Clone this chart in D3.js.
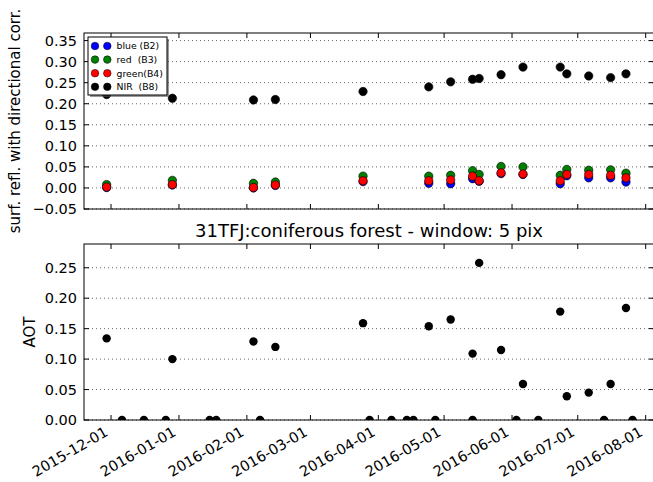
<!DOCTYPE html>
<html>
<head>
<meta charset="utf-8">
<script src="https://cdn.jsdelivr.net/npm/d3@7"></script>
<style>
  body { margin: 0; background: #fff; }
  svg { font-family: "DejaVu Sans", sans-serif; }
</style>
</head>
<body>
<div id="chart"></div>
<script>
// acquisition dates with valid reflectance
const validDates = ["2015-11-29", "2015-12-29", "2016-02-04", "2016-02-14", "2016-03-25", "2016-04-24",
  "2016-05-04", "2016-05-14", "2016-05-17", "2016-05-27", "2016-06-06", "2016-06-23",
  "2016-06-26", "2016-07-06", "2016-07-16", "2016-07-23"];
const blueB2 = [0.001, 0.007, 0.000, 0.006, 0.015, 0.011, 0.010, 0.022, 0.016, 0.034, 0.032, 0.010, 0.029, 0.024, 0.024, 0.014];
const redB3 = [0.008, 0.018, 0.011, 0.014, 0.028, 0.028, 0.030, 0.041, 0.032, 0.051, 0.050, 0.030, 0.044, 0.042, 0.043, 0.035];
const greenB4 = [0.002, 0.008, 0.001, 0.007, 0.017, 0.017, 0.019, 0.028, 0.017, 0.036, 0.033, 0.017, 0.032, 0.032, 0.030, 0.024];
const nirB8 = [0.222, 0.213, 0.209, 0.210, 0.229, 0.240, 0.252, 0.258, 0.260, 0.269, 0.287, 0.287, 0.271, 0.266, 0.262, 0.271];

// all acquisition dates and AOT
const aotDates = ["2015-11-29", "2015-12-06", "2015-12-16", "2015-12-26", "2015-12-29", "2016-01-15",
  "2016-01-18", "2016-02-04", "2016-02-07", "2016-02-14", "2016-03-25", "2016-03-28",
  "2016-04-07", "2016-04-14", "2016-04-17", "2016-04-24", "2016-04-27", "2016-05-04",
  "2016-05-14", "2016-05-14", "2016-05-17", "2016-05-27", "2016-06-03", "2016-06-06",
  "2016-06-13", "2016-06-23", "2016-06-26", "2016-07-06", "2016-07-13", "2016-07-16",
  "2016-07-23", "2016-07-26"];
const aotValues = [0.134, 0, 0, 0, 0.100, 0, 0, 0.129, 0, 0.120, 0.159, 0, 0, 0, 0, 0.154, 0, 0.165,
  0.109, 0, 0.258, 0.115, 0, 0.059, 0, 0.178, 0.039, 0.045, 0, 0.059, 0.184, 0];

const dateTicks = ["2015-12-01", "2016-01-01", "2016-02-01", "2016-03-01", "2016-04-01",
  "2016-05-01", "2016-06-01", "2016-07-01", "2016-08-01"];
const reflTicks = [-0.05, 0.00, 0.05, 0.10, 0.15, 0.20, 0.25, 0.30, 0.35];
const aotTicks = [0.00, 0.05, 0.10, 0.15, 0.20, 0.25];

const bandNames = ["blue (B2)", "red  (B3)", "green(B4)", "NIR  (B8)"];
const bandColors = ["#0000ff", "#008000", "#ff0000", "#000000"];

const W = 653, H = 482;
const LEFT = 84, RIGHT = 654;
const TOP1 = 33, BOT1 = 209;
const TOP2 = 244, BOT2 = 420;
const R = 4.2;

const parse = d3.utcParse("%Y-%m-%d");
const fmt = d3.utcFormat("%Y-%m-%d");

const svg = d3.select("#chart").append("svg")
  .attr("width", W).attr("height", H);

const x = d3.scaleUtc()
  .domain([Date.UTC(2015, 10, 18, 16), Date.UTC(2016, 7, 4, 19)])
  .range([LEFT, RIGHT]);
const y1 = d3.scaleLinear().domain([-0.05, 0.368]).range([BOT1, TOP1]);
const y2 = d3.scaleLinear().domain([0, 0.289]).range([BOT2, TOP2]);

const tickDates = dateTicks.map(parse);

// draw one axes frame with grid, inward ticks on all sides
const drawFrame = (y, top, bot, yTicks, clipId) => {
  const g = svg.append("g");

  svg.append("clipPath").attr("id", clipId)
    .append("rect").attr("x", LEFT).attr("y", top)
    .attr("width", RIGHT - LEFT).attr("height", bot - top);

  // dotted horizontal grid
  g.selectAll(".grid").data(yTicks).enter().append("line")
    .attr("x1", LEFT).attr("x2", RIGHT)
    .attr("y1", (d) => y(d)).attr("y2", (d) => y(d))
    .attr("stroke", "#000").attr("stroke-width", 0.6)
    .attr("stroke-dasharray", "1,3");

  const marks = svg.append("g").attr("clip-path", `url(#${clipId})`);

  const frame = svg.append("g").attr("class", "frame");
  return { marks, frame };
};

const finishFrame = (frame, y, top, bot, yTicks) => {
  // inward ticks
  tickDates.forEach((d) => {
    frame.append("line").attr("x1", x(d)).attr("x2", x(d))
      .attr("y1", bot).attr("y2", bot - 5).attr("stroke", "#000");
    frame.append("line").attr("x1", x(d)).attr("x2", x(d))
      .attr("y1", top).attr("y2", top + 5).attr("stroke", "#000");
  });
  yTicks.forEach((v) => {
    frame.append("line").attr("x1", LEFT).attr("x2", LEFT + 5)
      .attr("y1", y(v)).attr("y2", y(v)).attr("stroke", "#000");
    frame.append("line").attr("x1", RIGHT).attr("x2", RIGHT - 5)
      .attr("y1", y(v)).attr("y2", y(v)).attr("stroke", "#000");
    frame.append("text").attr("x", LEFT - 7).attr("y", y(v))
      .attr("dy", "0.36em").attr("text-anchor", "end")
      .style("font-size", "14.5px")
      .text(d3.format(".2f")(v).replace("-", "\u2212"));
  });
  frame.append("rect").attr("x", LEFT).attr("y", top)
    .attr("width", RIGHT - LEFT).attr("height", bot - top)
    .attr("fill", "none").attr("stroke", "#000").attr("stroke-width", 1);
};

// ---- top panel: reflectances
const p1 = drawFrame(y1, TOP1, BOT1, reflTicks, "clip1");
const bands = [blueB2, redB3, greenB4, nirB8];
bands.forEach((vals, i) => {
  p1.marks.selectAll(`.b${i}`).data(vals).enter().append("circle")
    .attr("cx", (d, j) => x(parse(validDates[j])))
    .attr("cy", (d) => y1(d))
    .attr("r", R)
    .attr("fill", bandColors[i])
    .attr("stroke", "#000").attr("stroke-width", 0.6);
});
finishFrame(p1.frame, y1, TOP1, BOT1, reflTicks);

svg.append("text")
  .attr("transform", `translate(15, ${(TOP1 + BOT1) / 2}) rotate(-90)`)
  .attr("text-anchor", "middle").attr("dy", "0.36em")
  .style("font-size", "15px")
  .text("surf. refl. with directional corr.");

// legend
const leg = svg.append("g").attr("transform", "translate(88, 37)");
leg.append("rect").attr("x", 2).attr("y", 2).attr("width", 79).attr("height", 58)
  .attr("fill", "#555").attr("opacity", 0.6);
leg.append("rect").attr("width", 79).attr("height", 58)
  .attr("fill", "#fff").attr("stroke", "#000").attr("stroke-width", 1);
bandNames.forEach((name, i) => {
  const cy = 9 + i * 13.6;
  [7, 19.3].forEach((cx) => {
    leg.append("circle").attr("cx", cx).attr("cy", cy).attr("r", 3.8)
      .attr("fill", bandColors[i]).attr("stroke", "#000").attr("stroke-width", 0.5);
  });
  leg.append("text").attr("x", 28.5).attr("y", cy).attr("dy", "0.36em")
    .style("font-size", "9.3px").style("white-space", "pre")
    .attr("xml:space", "preserve")
    .text(name);
});

// ---- bottom panel: AOT
const p2 = drawFrame(y2, TOP2, BOT2, aotTicks, "clip2");
p2.marks.selectAll(".aot").data(aotValues).enter().append("circle")
  .attr("cx", (d, j) => x(parse(aotDates[j])))
  .attr("cy", (d) => y2(d))
  .attr("r", R)
  .attr("fill", "#000");
finishFrame(p2.frame, y2, TOP2, BOT2, aotTicks);

svg.append("text")
  .attr("transform", `translate(30, ${(TOP2 + BOT2) / 2}) rotate(-90)`)
  .attr("text-anchor", "middle").attr("dy", "0.36em")
  .style("font-size", "15px")
  .text("AOT");

svg.append("text")
  .attr("x", (LEFT + RIGHT) / 2).attr("y", TOP2 - 7)
  .attr("text-anchor", "middle")
  .style("font-size", "18px")
  .text("31TFJ:coniferous forest - window: 5 pix");

// rotated date labels
svg.selectAll(".dlab").data(tickDates).enter().append("text")
  .attr("transform", (d) => `translate(${x(d) - 2}, ${BOT2 + 15}) rotate(-30)`)
  .attr("text-anchor", "end")
  .style("font-size", "14.5px")
  .text((d) => fmt(d));
</script>
</body>
</html>
